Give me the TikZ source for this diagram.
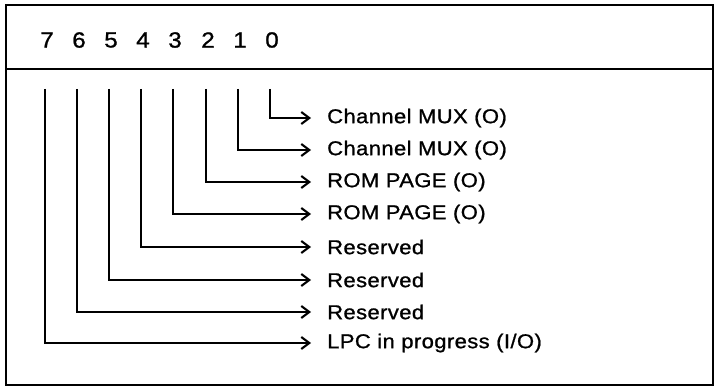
\documentclass[tikz,border=0pt]{standalone}
\usepackage{fontspec}
\setmainfont{Liberation Sans}[FakeStretch=1.1,LetterSpace=2,FakeBold=1]
\usetikzlibrary{arrows.meta}
\begin{document}
\begin{tikzpicture}[x=1pt,y=-1pt,
  frame/.style={line width=2.6pt},
  wire/.style={line width=2.1pt,-{Straight Barb[length=8pt,width=12pt,line width=2.1pt]}},
  digit/.style={font=\fontsize{22}{24}\selectfont,inner sep=0pt},
  lab/.style={font=\fontsize{20}{22}\selectfont,anchor=west,inner xsep=16pt,inner ysep=0pt}]
\useasboundingbox (0,0) rectangle (717,390);
% frame
\draw[frame] (6,5) rectangle (713,385);
\draw[frame] (6,69) -- (713,69);
% bit numbers and line tops
\foreach \b/\x in {7/45,6/77,5/109,4/141,3/173,2/206,1/238,0/270}{
  \node[digit] (d\b) at (\x+2,40) {\b};
  \coordinate (t\b) at (\x,89);
}
% labels
\node[lab] (l0) at (311,118) {Channel MUX (O)};
\node[lab] (l1) at (311,150) {Channel MUX (O)};
\node[lab] (l2) at (311,182) {ROM PAGE (O)};
\node[lab] (l3) at (311,214) {ROM PAGE (O)};
\node[lab] (l4) at (311,247) {Reserved};
\node[lab] (l5) at (311,280) {Reserved};
\node[lab] (l6) at (311,312) {Reserved};
\node[lab] (l7) at (311,343) {LPC in progress (I/O)};
% connectors
\foreach \b in {0,...,7}{
  \draw[wire] (t\b) |- (l\b.west);
}
\end{tikzpicture}
\end{document}
